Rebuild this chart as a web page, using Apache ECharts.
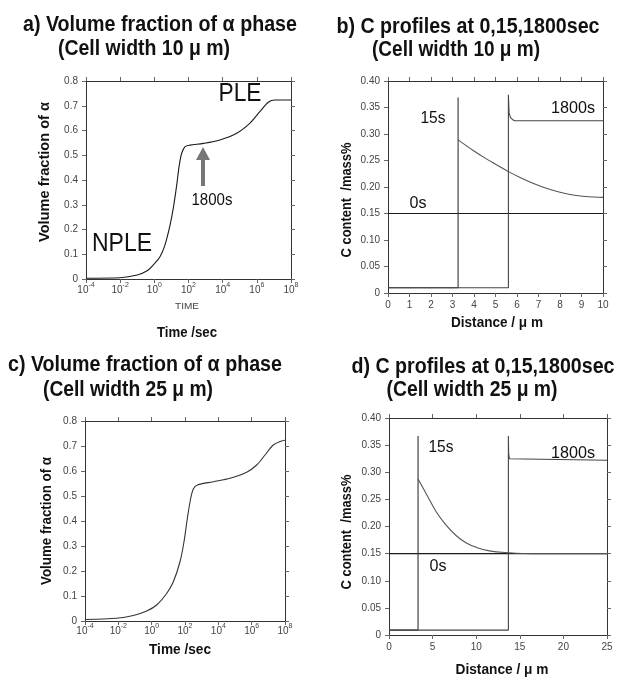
<!DOCTYPE html>
<html lang="en">
<head>
    <meta charset="UTF-8">
    <title>Volume fraction and C profiles</title>
    <style>
        body { margin: 0; background: #fff; }
    </style>
</head>
<body>

<div id="main" style="width: 619px;height:677px;"></div>

<script src="https://cdn.jsdelivr.net/npm/echarts@6/dist/echarts.min.js" charset="utf-8"></script>

<script type="text/javascript">

    // a) volume fraction, cell width 10um  (x = log10 of time in sec)
    var aExp  = [-4, -2, -1, -0.45, -0.06, 0.33, 0.62, 0.92, 1.11, 1.31, 1.46, 1.6, 1.8, 2.09, 2.87, 3.84, 4.82, 5.6, 6.19, 6.67, 7.06, 8];
    var aFrac = [0.003, 0.005, 0.016, 0.032, 0.057, 0.09, 0.137, 0.218, 0.286, 0.38, 0.46, 0.508, 0.535, 0.541, 0.548, 0.562, 0.589, 0.63, 0.677, 0.714, 0.723, 0.723];

    // c) volume fraction, cell width 25um
    var cExp  = [-4, -2.1, -1.1, -0.3, 0.3, 0.9, 1.3, 1.7, 1.94, 2.14, 2.34, 2.5, 2.74, 3.7, 4.7, 5.7, 6.3, 6.8, 7.3, 7.8, 8];
    var cFrac = [0.006, 0.011, 0.022, 0.04, 0.064, 0.11, 0.157, 0.237, 0.317, 0.41, 0.49, 0.528, 0.544, 0.557, 0.571, 0.595, 0.624, 0.664, 0.704, 0.72, 0.723];

    // b) C profiles, cell width 10um
    var b0sX = [0, 10];
    var b0sY = [0.15, 0.15];
    var b15sStepX = [0, 3.26, 3.26, 3.26];
    var b15sStepY = [0.01, 0.01, 0.369, 0.289];
    var b15sX = [3.26, 4.0, 4.5, 5.0, 5.6, 6.2, 6.8, 7.4, 8.0, 8.6, 9.2, 9.6, 10];
    var b15sY = [0.289, 0.268, 0.255, 0.243, 0.229, 0.217, 0.206, 0.197, 0.19, 0.185, 0.182, 0.181, 0.1805];
    var b1800X = [0, 5.6, 5.6, 5.63, 5.7, 5.8, 5.9, 10];
    var b1800Y = [0.01, 0.01, 0.374, 0.34, 0.331, 0.327, 0.325, 0.325];

    // d) C profiles, cell width 25um
    var d0sX = [0, 25];
    var d0sY = [0.15, 0.15];
    var d15sStepX = [0, 3.33, 3.33, 3.33];
    var d15sStepY = [0.009, 0.009, 0.367, 0.2876];
    var d15sX = [3.33, 4.28, 5.43, 6.57, 7.72, 8.87, 10.0, 11.5, 13.7, 16.5, 25];
    var d15sY = [0.2876, 0.26, 0.2267, 0.202, 0.183, 0.1696, 0.1616, 0.155, 0.1517, 0.150, 0.150];
    var d1800X = [0, 13.69, 13.69, 13.72, 13.8, 14.0, 25];
    var d1800Y = [0.009, 0.009, 0.367, 0.335, 0.325, 0.322, 0.322];

    var FONT = '"Liberation Sans", Arial, sans-serif';

    var measureCtx = document.createElement('canvas').getContext('2d');

    function pairs(xs, ys) {
        var out = [];
        for (var i = 0; i < xs.length; i++) {
            out.push([xs[i], ys[i]]);
        }
        return out;
    }

    // 10 with the exponent raised
    function pow10(v) {
        return '{b|10}{s|' + v + '}';
    }
    var powRich = {
        b: {fontSize: 10, lineHeight: 13, verticalAlign: 'bottom', color: '#444', fontFamily: FONT},
        s: {fontSize: 7, lineHeight: 13, verticalAlign: 'top', color: '#444', fontFamily: FONT}
    };

    function xAxisOf(grid, min, max, interval, pos, fmt, margin, rich) {
        return {
            gridIndex: grid, type: 'value', min: min, max: max, interval: interval,
            position: pos,
            axisLine: {onZero: false, lineStyle: {color: '#333', width: 1}},
            axisTick: {show: true, inside: false, length: 4, lineStyle: {color: '#666'}},
            axisLabel: {show: !!fmt, formatter: fmt, fontSize: 10, color: '#444', fontFamily: FONT,
                margin: margin || 6, rich: rich},
            splitLine: {show: false}
        };
    }

    function yAxisOf(grid, min, max, interval, pos, fmt) {
        return {
            gridIndex: grid, type: 'value', min: min, max: max, interval: interval,
            position: pos,
            axisLine: {onZero: false, lineStyle: {color: '#333', width: 1}},
            axisTick: {show: true, inside: false, length: 4, lineStyle: {color: '#666'}},
            axisLabel: {show: !!fmt, formatter: fmt, fontSize: 10, color: '#444', fontFamily: FONT, margin: 8},
            splitLine: {show: false}
        };
    }

    function line(name, x, y, xi, yi, color, smooth) {
        return {
            name: name, type: 'line', xAxisIndex: xi, yAxisIndex: yi,
            data: pairs(x, y), showSymbol: false, symbol: 'none',
            smooth: smooth || false,
            lineStyle: {color: color, width: 1.1},
            animation: false
        };
    }

    // text squeezed horizontally to the width it has in the picture
    function txt(x, y, s, size, width, opts) {
        opts = opts || {};
        var font = (opts.weight || 'normal') + ' ' + size + 'px ' + FONT;
        measureCtx.font = font;
        var w = measureCtx.measureText(s).width;
        return {
            type: 'text', x: x, y: y, rotation: opts.rot || 0, z: 10,
            scaleX: width / w, scaleY: 1,
            style: {
                text: s, fill: opts.color || '#111', font: font,
                textAlign: 'center', textVerticalAlign: 'middle'
            }
        };
    }

    var fmtY1 = function (v) { return v === 0 ? '0' : v.toFixed(1); };
    var fmtY2 = function (v) { return v === 0 ? '0' : v.toFixed(2); };
    var fmtX = function (v) { return String(v); };

    var myChart = echarts.init(document.getElementById('main'), null, {renderer: 'canvas'});

    var B = {weight: 'bold'};
    var V = {weight: 'bold', rot: Math.PI / 2};

    var option = {
        backgroundColor: '#fff',
        animation: false,
        grid: [
            {left: 86, top: 81, width: 205, height: 198},
            {left: 388, top: 81, width: 215, height: 212},
            {left: 85, top: 421, width: 200, height: 200},
            {left: 389, top: 418, width: 218, height: 217}
        ],
        xAxis: [
            xAxisOf(0, -4, 8, 2, 'bottom', pow10, 3, powRich),
            xAxisOf(0, -4, 8, 2, 'top', null),
            xAxisOf(1, 0, 10, 1, 'bottom', fmtX, 7),
            xAxisOf(1, 0, 10, 1, 'top', null),
            xAxisOf(2, -4, 8, 2, 'bottom', pow10, 2, powRich),
            xAxisOf(2, -4, 8, 2, 'top', null),
            xAxisOf(3, 0, 25, 5, 'bottom', fmtX, 7),
            xAxisOf(3, 0, 25, 5, 'top', null)
        ],
        yAxis: [
            yAxisOf(0, 0, 0.8, 0.1, 'left', fmtY1),
            yAxisOf(0, 0, 0.8, 0.1, 'right', null),
            yAxisOf(1, 0, 0.4, 0.05, 'left', fmtY2),
            yAxisOf(1, 0, 0.4, 0.05, 'right', null),
            yAxisOf(2, 0, 0.8, 0.1, 'left', fmtY1),
            yAxisOf(2, 0, 0.8, 0.1, 'right', null),
            yAxisOf(3, 0, 0.4, 0.05, 'left', fmtY2),
            yAxisOf(3, 0, 0.4, 0.05, 'right', null)
        ],
        series: [
            line('10um', aExp, aFrac, 0, 0, '#1a1a1a', 0.3),
            line('0s', b0sX, b0sY, 2, 2, '#1a1a1a'),
            line('15s', b15sStepX, b15sStepY, 2, 2, '#333'),
            line('15s', b15sX, b15sY, 2, 2, '#555', 0.4),
            line('1800s', b1800X, b1800Y, 2, 2, '#444'),
            line('25um', cExp, cFrac, 4, 4, '#333', 0.3),
            line('0s', d0sX, d0sY, 6, 6, '#1a1a1a'),
            line('15s', d15sStepX, d15sStepY, 6, 6, '#333'),
            line('15s', d15sX, d15sY, 6, 6, '#555', 0.4),
            line('1800s', d1800X, d1800Y, 6, 6, '#444')
        ],
        graphic: [
            // titles
            txt(160, 25, 'a) Volume fraction of α phase', 22, 274, B),
            txt(144, 49, '(Cell width 10 μ m)', 22, 172, B),
            txt(468, 27, 'b) C profiles at 0,15,1800sec', 22, 263, B),
            txt(456, 50, '(Cell width 10 μ m)', 22, 168, B),
            txt(145, 365, 'c) Volume fraction of α phase', 22, 274, B),
            txt(128, 390, '(Cell width 25 μ m)', 22, 170, B),
            txt(483, 367, 'd) C profiles at 0,15,1800sec', 22, 263, B),
            txt(472, 390, '(Cell width 25 μ m)', 22, 171, B),

            // axis names
            txt(45, 172, 'Volume fraction of α', 15, 140, V),
            txt(187, 307, 'TIME', 9, 24, {color: '#444'}),
            txt(187, 333, 'Time /sec', 15, 60, B),
            txt(347, 200, 'C content  /mass%', 14, 115, V),
            txt(497, 323, 'Distance / μ m', 15, 92, B),
            txt(47, 521, 'Volume fraction of α', 15, 128, V),
            txt(180, 650, 'Time /sec', 15, 62, B),
            txt(347, 532, 'C content  /mass%', 14, 115, V),
            txt(502, 670, 'Distance / μ m', 15, 93, B),

            // annotations
            txt(122, 244, 'NPLE', 26, 60),
            txt(240, 94, 'PLE', 26, 43),
            txt(212, 201, '1800s', 16, 41),
            {
                type: 'polygon', z: 10,
                shape: {points: [[201, 186], [201, 160], [196, 160], [203, 147], [210, 160], [205, 160], [205, 186]]},
                style: {fill: '#777'}
            },
            txt(433, 118, '15s', 17, 25),
            txt(573, 108, '1800s', 17, 44),
            txt(418, 203, '0s', 17, 17),
            txt(441, 447, '15s', 17, 25),
            txt(573, 453, '1800s', 17, 44),
            txt(438, 566, '0s', 17, 17)
        ]
    };

    myChart.setOption(option);

</script>
</body>

</html>
